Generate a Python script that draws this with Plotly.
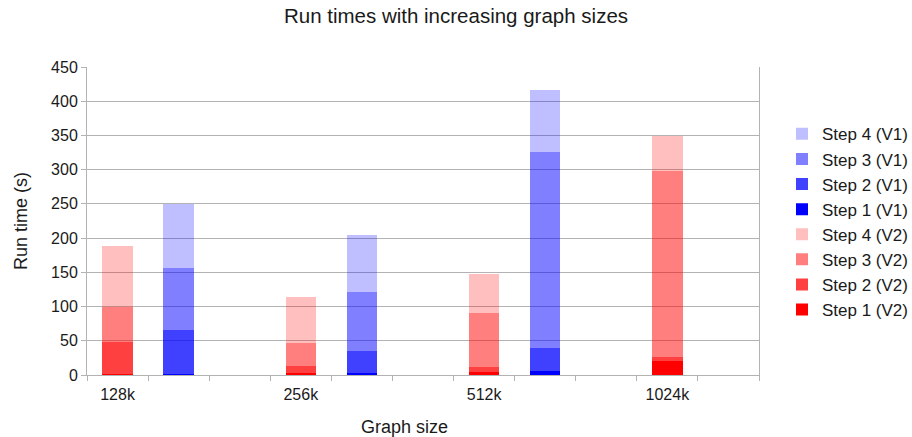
import plotly.graph_objects as go

sizes = ["128k", "256k", "512k", "1024k"]

v2_step1 = [1, 2, 5, 21]
v2_step2 = [47, 11.5, 6, 5.5]
v2_step3 = [52, 33, 80, 272]
v2_step4 = [89, 68, 56, 51]

v1_step1 = [1, 2, 6]
v1_step2 = [65, 33, 34]
v1_step3 = [90, 87, 286]
v1_step4 = [94, 83, 91]

red_colors = ["rgba(255,0,0,1)", "rgba(255,0,0,0.75)", "rgba(255,0,0,0.5)", "rgba(255,0,0,0.25)"]
blue_colors = ["rgba(0,0,255,1)", "rgba(0,0,255,0.75)", "rgba(0,0,255,0.5)", "rgba(0,0,255,0.25)"]

FONT = "Liberation Sans, Arial, sans-serif"
TXT = "#1a1a1a"
GRID = "#b3b3b3"

x_v2 = [3 * i for i in range(len(sizes))]
x_v1 = [3 * i + 1 for i in range(len(v1_step1))]

fig = go.Figure()
for k, vals in enumerate([v2_step1, v2_step2, v2_step3, v2_step4]):
    fig.add_trace(go.Bar(x=x_v2, y=vals, name=f"Step {k+1} (V2)", width=0.5,
                         marker=dict(color=red_colors[k], line=dict(width=0))))
for k, vals in enumerate([v1_step1, v1_step2, v1_step3, v1_step4]):
    fig.add_trace(go.Bar(x=x_v1, y=vals, name=f"Step {k+1} (V1)", width=0.5,
                         marker=dict(color=blue_colors[k], line=dict(width=0))))

fig.update_layout(
    barmode="stack",
    width=912, height=437,
    margin=dict(l=87, r=153, t=67, b=62, autoexpand=False),
    paper_bgcolor="white", plot_bgcolor="white",
    font=dict(family=FONT, color=TXT),
    title=dict(text="Run times with increasing graph sizes", x=0.5, xanchor="center",
               xref="container", y=1 - 16 / 437, yref="container", yanchor="middle",
               font=dict(size=20.5, family=FONT, color=TXT)),
    legend=dict(x=(782 - 87) / 672, xanchor="left", y=0.84, yanchor="top", traceorder="reversed",
                font=dict(size=17, family=FONT, color=TXT), bgcolor="rgba(0,0,0,0)"),
    showlegend=True,
)
fig.update_xaxes(
    range=[-0.5, 10.5], tickmode="array", tickvals=x_v2, ticktext=sizes,
    ticks="outside", ticklen=5, tickcolor="rgba(0,0,0,0)",
    tickfont=dict(size=16, family=FONT, color=TXT),
    showgrid=False, zeroline=False, showline=True, linecolor=GRID, linewidth=1,
    minor=dict(tickmode="linear", tick0=-0.5, dtick=1, ticks="outside", ticklen=5,
               tickcolor=GRID, showgrid=False),
)
fig.update_yaxes(
    range=[0, 450], dtick=50, ticks="outside", ticklen=5, tickcolor=GRID,
    tickfont=dict(size=16, family=FONT, color=TXT),
    showgrid=True, gridcolor=GRID, gridwidth=1, zeroline=False,
    showline=True, linecolor=GRID, linewidth=1, mirror=True,
    title=dict(text="Run time (s)", font=dict(size=18, family=FONT, color=TXT), standoff=18),
)
fig.add_annotation(text="Graph size", xref="paper", yref="paper",
                   x=(404 - 87) / 672, y=(375 - 427) / 308, xanchor="center", yanchor="middle",
                   showarrow=False, font=dict(size=18, family=FONT, color=TXT))

fig.write_html("out.html", config={"displayModeBar": False},
               post_script="document.body.style.margin='0';document.body.style.padding='0';")
